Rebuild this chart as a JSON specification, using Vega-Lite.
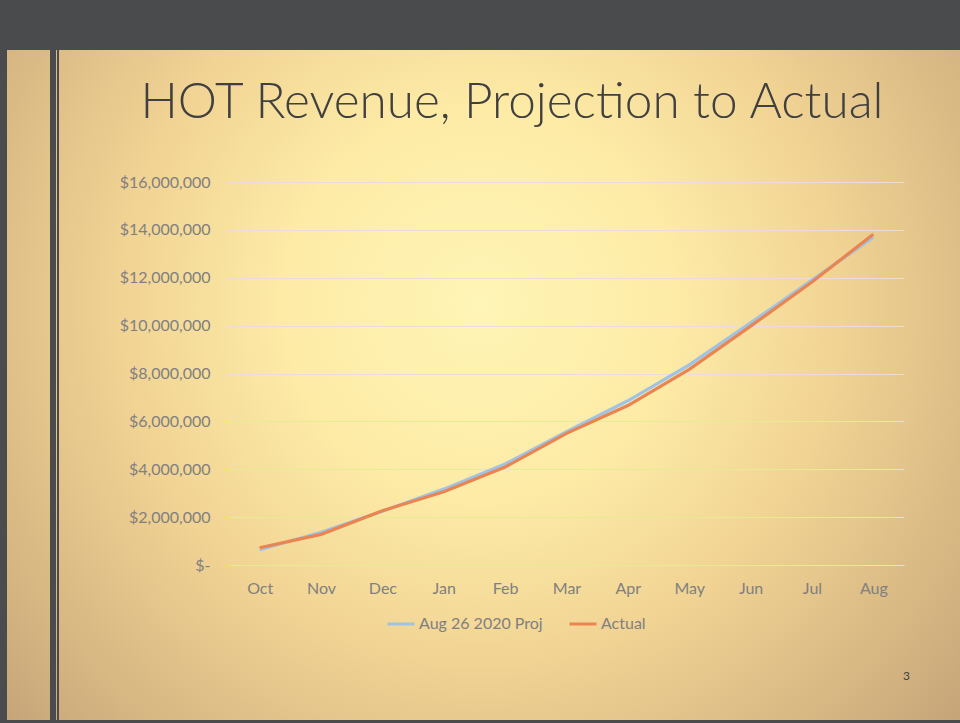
{
  "$schema": "https://vega.github.io/schema/vega-lite/v6.json",
  "width": 960,
  "height": 723,
  "autosize": {"type": "fit", "contains": "padding"},
  "padding": 0,
  "background": "#C9AA7A",
  "config": {
    "view": {
      "stroke": null,
      "fill": {
        "gradient": "radial",
        "x1": 0.5, "y1": 0.44, "r1": 0,
        "x2": 0.5, "y2": 0.44, "r2": 0.68,
        "stops": [
          {"offset": 0, "color": "#FFF5B6"},
          {"offset": 0.3, "color": "#FDEBA6"},
          {"offset": 0.55, "color": "#F1D394"},
          {"offset": 0.8, "color": "#D8B883"},
          {"offset": 1, "color": "#C2A277"}
        ]
      }
    },
    "font": "Lato"
  },
  "title": {
    "text": "HOT Revenue, Projection to Actual",
    "font": "Lato",
    "fontSize": 49.5,
    "fontWeight": 300,
    "color": "#404040",
    "anchor": "middle",
    "frame": "group",
    "offset": -167,
    "baseline": "alphabetic",
    "dx": 32
  },
  "layer": [
    {
      "data": {"values": [{}]},
      "mark": {"type": "rect", "color": "#4A4B4D"},
      "encoding": {"x": {"value": 0}, "x2": {"value": 960}, "y": {"value": 0}, "y2": {"value": 50}}
    },
    {
      "data": {"values": [{}]},
      "mark": {"type": "rect", "color": "#4A4B4D"},
      "encoding": {"x": {"value": 0}, "x2": {"value": 7}, "y": {"value": 0}, "y2": {"value": 723}}
    },
    {
      "data": {"values": [{}]},
      "mark": {"type": "rect", "color": "#4A4B4D"},
      "encoding": {"x": {"value": 50}, "x2": {"value": 56}, "y": {"value": 50}, "y2": {"value": 723}}
    },
    {
      "data": {"values": [{}]},
      "mark": {"type": "rect", "color": "#4A4B4D"},
      "encoding": {"x": {"value": 57}, "x2": {"value": 59}, "y": {"value": 50}, "y2": {"value": 723}}
    },
    {
      "data": {"values": [{}]},
      "mark": {"type": "rect", "color": "#4A4B4D"},
      "encoding": {"x": {"value": 0}, "x2": {"value": 960}, "y": {"value": 720}, "y2": {"value": 723}}
    },
    {
      "data": {
        "values": [
          {"month": "Oct", "series": "Aug 26 2020 Proj", "value": 640000},
          {"month": "Nov", "series": "Aug 26 2020 Proj", "value": 1370000},
          {"month": "Dec", "series": "Aug 26 2020 Proj", "value": 2250000},
          {"month": "Jan", "series": "Aug 26 2020 Proj", "value": 3170000},
          {"month": "Feb", "series": "Aug 26 2020 Proj", "value": 4220000},
          {"month": "Mar", "series": "Aug 26 2020 Proj", "value": 5570000},
          {"month": "Apr", "series": "Aug 26 2020 Proj", "value": 6860000},
          {"month": "May", "series": "Aug 26 2020 Proj", "value": 8360000},
          {"month": "Jun", "series": "Aug 26 2020 Proj", "value": 10120000},
          {"month": "Jul", "series": "Aug 26 2020 Proj", "value": 11900000},
          {"month": "Aug", "series": "Aug 26 2020 Proj", "value": 13690000},
          {"month": "Oct", "series": "Actual", "value": 720000},
          {"month": "Nov", "series": "Actual", "value": 1280000},
          {"month": "Dec", "series": "Actual", "value": 2270000},
          {"month": "Jan", "series": "Actual", "value": 3060000},
          {"month": "Feb", "series": "Actual", "value": 4090000},
          {"month": "Mar", "series": "Actual", "value": 5500000},
          {"month": "Apr", "series": "Actual", "value": 6660000},
          {"month": "May", "series": "Actual", "value": 8170000},
          {"month": "Jun", "series": "Actual", "value": 9980000},
          {"month": "Jul", "series": "Actual", "value": 11820000},
          {"month": "Aug", "series": "Actual", "value": 13820000}
        ]
      },
      "mark": {"type": "line", "strokeWidth": 3.2},
      "encoding": {
        "x": {
          "field": "month",
          "type": "ordinal",
          "sort": ["Oct", "Nov", "Dec", "Jan", "Feb", "Mar", "Apr", "May", "Jun", "Jul", "Aug"],
          "scale": {"type": "point", "range": [229, 904], "padding": 0.5},
          "axis": {
            "orient": "bottom",
            "offset": -158,
            "domain": false,
            "ticks": false,
            "grid": false,
            "labelAngle": 0,
            "labelPadding": 15,
            "labelFont": "Lato",
            "labelFontSize": 16,
            "labelColor": "#808080",
            "title": "3",
            "titleX": 906,
            "titleY": 110,
            "titleFont": "Lato",
            "titleFontSize": 12,
            "titleFontWeight": "normal",
            "titleColor": "#404040",
            "titleBaseline": "middle",
            "titleAlign": "center"
          }
        },
        "y": {
          "field": "value",
          "type": "quantitative",
          "scale": {"domain": [0, 16000000], "range": [565, 182], "nice": false, "zero": true},
          "axis": {
            "values": [0, 2000000, 4000000, 6000000, 8000000, 10000000, 12000000, 14000000, 16000000],
            "labelExpr": "datum.value === 0 ? '$-\u00a0\u00a0\u00a0' : '$' + format(datum.value, ',')",
            "offset": -222,
            "domain": false,
            "ticks": false,
            "tickSize": 0,
            "labelPadding": 12,
            "labelFont": "Lato",
            "labelFontSize": 16,
            "labelColor": "#808080",
            "grid": true,
            "gridColor": "#E4E0D6",
            "gridWidth": 1.2,
            "title": null
          }
        },
        "color": {
          "field": "series",
          "type": "nominal",
          "sort": ["Aug 26 2020 Proj", "Actual"],
          "scale": {"domain": ["Aug 26 2020 Proj", "Actual"], "range": ["#9FC3E5", "#EA8450"]},
          "legend": {
            "orient": "none",
            "legendX": 386,
            "legendY": 609,
            "direction": "horizontal",
            "title": null,
            "padding": 0,
            "symbolType": "stroke",
            "symbolSize": 729,
            "symbolStrokeWidth": 3,
            "labelFont": "Lato",
            "labelFontSize": 16,
            "labelColor": "#808080",
            "labelOffset": 3,
            "columnPadding": 20
          }
        }
      }
    }
  ]
}
